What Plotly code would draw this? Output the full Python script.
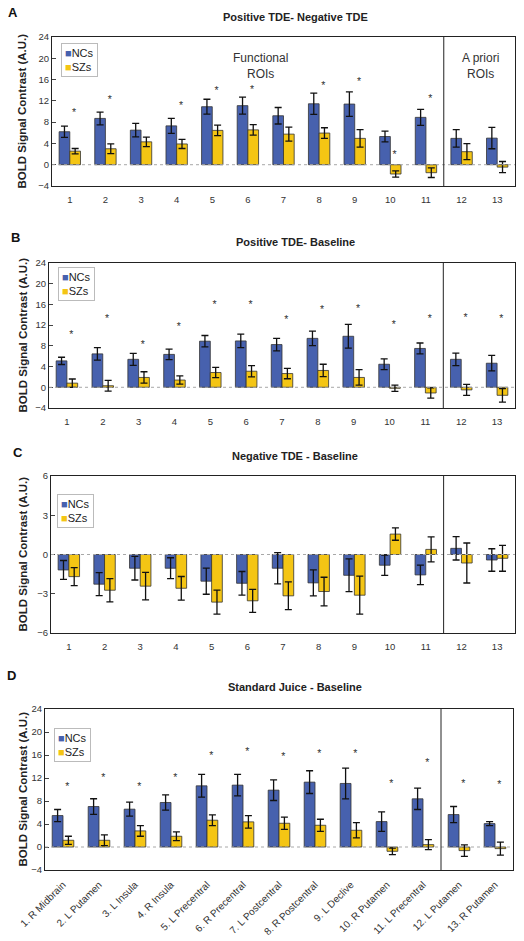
import plotly.graph_objects as go

# ---------------- data ----------------
roi_numbers = ["1", "2", "3", "4", "5", "6", "7", "8", "9", "10", "11", "12", "13"]
roi_names = ["1. R Midbrain", "2. L Putamen", "3. L Insula", "4. R Insula",
             "5. L Precentral", "6. R Precentral", "7. L Postcentral",
             "8. R Postcentral", "9. L Declive", "10. R Putamen",
             "11. L Precentral", "12. L Putamen", "13. R Putamen"]

# Panel A: Positive TDE - Negative TDE
a_nc = [6.2, 8.7, 6.5, 7.3, 10.9, 11.1, 9.2, 11.45, 11.4, 5.3, 8.9, 4.95, 5.0]
a_nc_err = [1.05, 1.2, 1.25, 1.4, 1.4, 1.6, 1.55, 2.0, 2.3, 1.0, 1.5, 1.65, 2.0]
a_sz = [2.55, 3.0, 4.3, 3.9, 6.45, 6.55, 5.75, 5.95, 4.95, -1.75, -1.5, 2.45, -0.45]
a_sz_err = [0.5, 0.9, 0.9, 0.85, 1.0, 1.0, 1.3, 1.0, 1.65, 0.6, 0.9, 1.5, 1.05]
a_star = [9.6, 12.0, None, 11.0, 13.8, 13.9, None, 14.75, 15.4, 1.7, 12.25, None, None]

# Panel B: Positive TDE - Baseline
b_nc = [5.1, 6.45, 5.4, 6.35, 8.9, 8.95, 8.25, 9.45, 9.85, 4.45, 7.5, 5.4, 4.65]
b_nc_err = [0.7, 1.2, 1.15, 1.0, 1.1, 1.3, 1.2, 1.4, 2.3, 1.05, 1.05, 1.2, 1.5]
b_sz = [0.8, 0.3, 1.9, 1.4, 2.85, 3.1, 2.65, 3.25, 1.9, -0.2, -1.1, -0.5, -1.55]
b_sz_err = [0.8, 1.05, 1.1, 0.8, 1.0, 1.1, 1.0, 1.2, 1.5, 0.6, 1.0, 1.05, 1.3]
b_star = [10.1, 13.1, 8.0, 11.6, 15.9, 15.9, 13.0, 14.9, 15.1, 12.0, 13.1, 13.3, 13.2]

# Panel C: Negative TDE - Baseline
c_nc = [-1.18, -2.27, -1.05, -1.05, -2.04, -2.2, -1.05, -2.17, -1.59, -0.82, -1.56, 0.47, -0.42]
c_nc_err = [0.72, 0.88, 0.9, 0.8, 1.0, 0.9, 1.2, 1.0, 1.25, 0.78, 0.75, 0.89, 0.86]
c_sz = [-1.69, -2.73, -2.42, -2.58, -3.64, -3.54, -3.16, -2.83, -3.11, 1.56, 0.39, -0.65, -0.29]
c_sz_err = [0.69, 0.89, 1.05, 0.9, 0.92, 0.88, 1.06, 1.09, 1.45, 0.47, 0.95, 1.53, 0.99]
c_star = [None] * 13

# Panel D: Standard Juice - Baseline
d_nc = [5.47, 7.04, 6.58, 7.74, 10.64, 10.76, 9.89, 11.28, 11.05, 4.42, 8.38, 5.64, 4.07]
d_nc_err = [1.05, 1.35, 1.22, 1.34, 1.98, 1.86, 1.8, 1.98, 2.67, 1.69, 1.86, 1.4, 0.35]
d_sz = [1.17, 1.17, 2.8, 1.87, 4.66, 4.37, 4.13, 3.78, 2.91, -0.75, 0.41, -0.63, -0.28]
d_sz_err = [0.7, 0.93, 0.93, 0.75, 0.93, 1.1, 1.05, 1.05, 1.34, 0.58, 0.87, 0.99, 1.13]
d_star = [10.35, 11.87, 10.35, 11.98, 15.76, 16.45, 15.58, 16.16, 16.16, 10.82, 14.6, 10.94, 10.76]

panel_titles = ["Positive TDE- Negative TDE", "Positive TDE- Baseline",
                "Negative TDE - Baseline", "Standard Juice - Baseline"]
panel_letters = ["A", "B", "C", "D"]
group_names = ["NCs", "SZs"]
y_title = "BOLD Signal Contrast (A.U.)"

# ---------------- style / layout ----------------
W, H = 524, 941
NC_COLOR = "#4761AE"
SZ_COLOR = "#F4C514"
FONT = "Liberation Sans, Arial, sans-serif"
TXT = "#222222"

# pixel boxes (left, right, top, bottom)
boxes = [(52, 515, 37, 186), (49, 515, 263, 408), (51, 515, 476, 633), (45, 513, 709, 870)]
title_y = [17, 242, 456, 687]
letter_pos = [(13, 13), (15, 238), (18, 452), (11, 675)]
legend_pos = [(61, 43), (58, 267), (57, 494), (54, 728)]
yranges = [(-4, 24, 4), (-4, 24, 4), (-6, 6, 3), (-4, 24, 4)]

panels = [
    (a_nc, a_nc_err, a_sz, a_sz_err, a_star),
    (b_nc, b_nc_err, b_sz, b_sz_err, b_star),
    (c_nc, c_nc_err, c_sz, c_sz_err, c_star),
    (d_nc, d_nc_err, d_sz, d_sz_err, d_star),
]

def px(x):
    return x / W

def py(y):
    return 1 - y / H

fig = go.Figure()
xpos = list(range(1, 14))
annotations = []
shapes = []
layout_axes = {}

for i, (nc, nce, sz, sze, star) in enumerate(panels):
    k = "" if i == 0 else str(i + 1)
    xa, ya = "x" + k, "y" + k
    for vals, errs, name, color in ((nc, nce, group_names[0], NC_COLOR),
                                     (sz, sze, group_names[1], SZ_COLOR)):
        fig.add_trace(go.Bar(
            x=xpos, y=vals, name=name, xaxis=xa, yaxis=ya,
            offsetgroup=name, showlegend=False,
            marker=dict(color=color, line=dict(color="#333333", width=0.8)),
            error_y=dict(type="data", array=errs, visible=True,
                         color="#111111", thickness=1.3, width=3.5),
        ))
    sx = [p + 0.12 for p, s in zip(xpos, star) if s is not None]
    sy = [s for s in star if s is not None]
    if sy:
        fig.add_trace(go.Scatter(
            x=sx, y=sy, mode="text", text=["*"] * len(sy), xaxis=xa, yaxis=ya,
            textposition="middle center", showlegend=False, hoverinfo="skip",
            textfont=dict(family=FONT, size=10.5, color="#333333"),
        ))

    l, r, t, b = boxes[i]
    y0, y1, dt = yranges[i]
    last = (i == 3)
    layout_axes["xaxis" + k] = dict(
        domain=[px(l), px(r)], anchor=ya, range=[0.5, 13.5], automargin=False,
        tickmode="array", tickvals=xpos,
        ticktext=roi_names if last else roi_numbers,
        tickangle=-45 if last else 0,
        ticks="outside", ticklen=4 if last else 5, tickcolor="rgba(0,0,0,0)",
        showline=True, linecolor="#222222", linewidth=1, mirror=True,
        showgrid=False, zeroline=False,
        tickfont=dict(family=FONT, size=10 if last else 9.5, color="#333333"),
        fixedrange=True,
    )
    layout_axes["yaxis" + k] = dict(
        domain=[py(b), py(t)], anchor=xa, range=[y0, y1], automargin=False,
        tickmode="linear", tick0=y0, dtick=dt,
        ticks="inside", ticklen=4, tickcolor="#444444",
        showline=True, linecolor="#222222", linewidth=1, mirror=True,
        showgrid=False, zeroline=False,
        tickfont=dict(family=FONT, size=9.5, color="#333333"),
        fixedrange=True,
    )
    # zero reference line (dotted)
    shapes.append(dict(type="line", xref=xa + " domain", yref=ya,
                       x0=0, x1=1, y0=0, y1=0,
                       line=dict(color="#a8a8a8", width=1, dash="dot")))
    # divider between functional and a-priori ROIs
    shapes.append(dict(type="line", xref=xa, yref=ya + " domain",
                       x0=11.5, x1=11.5, y0=0, y1=1,
                       line=dict(color="#222222", width=1)))
    # panel title
    annotations.append(dict(text="<b>" + panel_titles[i] + "</b>", x=px(295), y=py(title_y[i]),
                            xref="paper", yref="paper", showarrow=False,
                            xanchor="center", yanchor="middle",
                            font=dict(family=FONT, size=11, color=TXT)))
    # panel letter
    lx, ly = letter_pos[i]
    annotations.append(dict(text="<b>" + panel_letters[i] + "</b>", x=px(lx), y=py(ly),
                            xref="paper", yref="paper", showarrow=False,
                            xanchor="center", yanchor="middle",
                            font=dict(family=FONT, size=13, color="#111111")))
    # y axis title
    annotations.append(dict(text="<b>" + y_title + "</b>", x=px(22), y=py((t + b) / 2),
                            xref="paper", yref="paper", showarrow=False, textangle=-90,
                            xanchor="center", yanchor="middle",
                            font=dict(family=FONT, size=11.5, color=TXT)))
    # legend box
    gx, gy = legend_pos[i]
    legend_text = ("<span style='color:%s'>■</span>%s<br><span style='color:%s'>■</span>%s"
                   % (NC_COLOR, group_names[0], SZ_COLOR, group_names[1]))
    annotations.append(dict(text=legend_text, x=px(gx), y=py(gy),
                            xref="paper", yref="paper", showarrow=False,
                            xanchor="left", yanchor="top", align="left",
                            bordercolor="#bbbbbb", borderwidth=1, borderpad=3,
                            bgcolor="white",
                            font=dict(family=FONT, size=11, color=TXT)))

# region labels in panel A
annotations.append(dict(text="Functional<br>ROIs", x=px(260), y=py(66), xref="paper", yref="paper",
                        showarrow=False, xanchor="center", yanchor="middle",
                        font=dict(family=FONT, size=12, color="#333333")))
annotations.append(dict(text="A priori<br>ROIs", x=px(480), y=py(66), xref="paper", yref="paper",
                        showarrow=False, xanchor="center", yanchor="middle",
                        font=dict(family=FONT, size=12, color="#333333")))

fig.update_layout(
    width=W, height=H,
    margin=dict(l=0, r=0, t=0, b=0, autoexpand=False),
    paper_bgcolor="white", plot_bgcolor="white",
    barmode="group", bargap=0.4, bargroupgap=0,
    annotations=annotations, shapes=shapes,
    font=dict(family=FONT, color=TXT),
    hovermode=False,
    **layout_axes,
)

fig.write_html("out.html", config={"displayModeBar": False, "responsive": False},
               post_script="document.body.style.margin='0';document.body.style.overflow='hidden';")
